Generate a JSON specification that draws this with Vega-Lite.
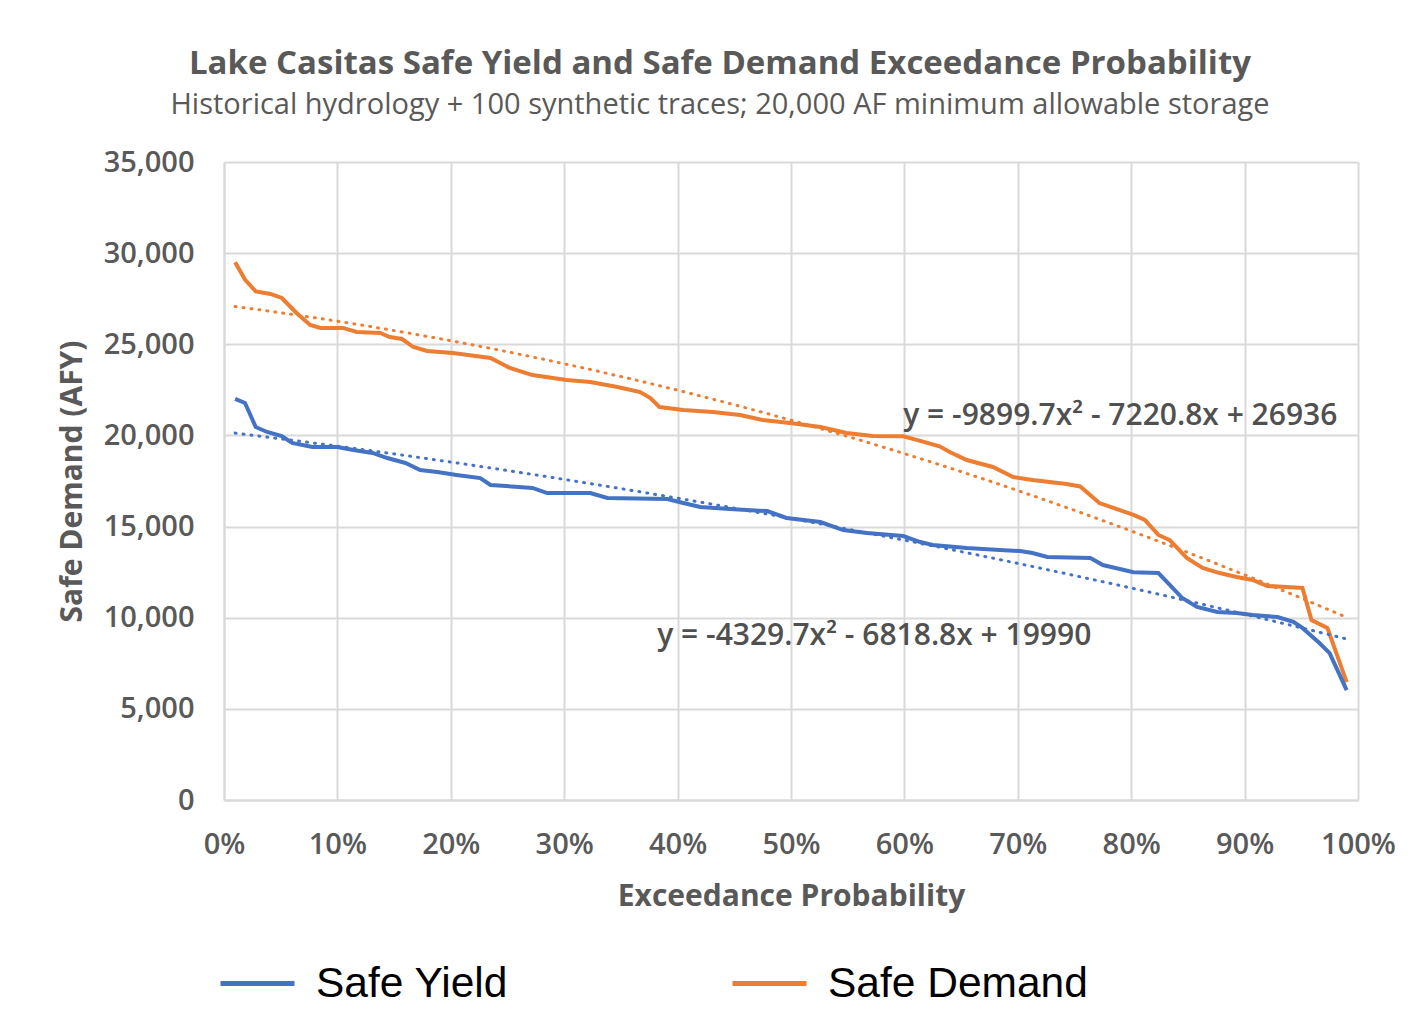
{
  "$schema": "https://vega.github.io/schema/vega-lite/v6.json",
  "autosize": {"type": "none"},
  "padding": {"left": 224, "top": 162, "right": 58, "bottom": 215},
  "width": 1134,
  "height": 638,
  "background": "white",
  "title": {
    "text": "Lake Casitas Safe Yield and Safe Demand Exceedance Probability",
    "subtitle": "Historical hydrology + 100 synthetic traces; 20,000 AF minimum allowable storage",
    "anchor": "middle",
    "frame": "group",
    "dx": -71,
    "offset": 28,
    "font": "Open Sans",
    "fontSize": 33,
    "fontWeight": "bold",
    "color": "#595959",
    "subtitleFont": "Open Sans",
    "subtitleFontSize": 29,
    "subtitleColor": "#595959",
    "subtitlePadding": 10
  },
  "datasets": {
    "curves": [
      {"p": 0.0098, "value": 29500, "series": "Safe Demand"},
      {"p": 0.0185, "value": 28550, "series": "Safe Demand"},
      {"p": 0.028, "value": 27900, "series": "Safe Demand"},
      {"p": 0.041, "value": 27760, "series": "Safe Demand"},
      {"p": 0.051, "value": 27540, "series": "Safe Demand"},
      {"p": 0.064, "value": 26720, "series": "Safe Demand"},
      {"p": 0.076, "value": 26060, "series": "Safe Demand"},
      {"p": 0.085, "value": 25900, "series": "Safe Demand"},
      {"p": 0.105, "value": 25900, "series": "Safe Demand"},
      {"p": 0.117, "value": 25680, "series": "Safe Demand"},
      {"p": 0.138, "value": 25620, "series": "Safe Demand"},
      {"p": 0.146, "value": 25400, "series": "Safe Demand"},
      {"p": 0.157, "value": 25290, "series": "Safe Demand"},
      {"p": 0.167, "value": 24850, "series": "Safe Demand"},
      {"p": 0.179, "value": 24630, "series": "Safe Demand"},
      {"p": 0.202, "value": 24520, "series": "Safe Demand"},
      {"p": 0.235, "value": 24250, "series": "Safe Demand"},
      {"p": 0.252, "value": 23700, "series": "Safe Demand"},
      {"p": 0.272, "value": 23310, "series": "Safe Demand"},
      {"p": 0.302, "value": 23040, "series": "Safe Demand"},
      {"p": 0.323, "value": 22930, "series": "Safe Demand"},
      {"p": 0.347, "value": 22660, "series": "Safe Demand"},
      {"p": 0.367, "value": 22380, "series": "Safe Demand"},
      {"p": 0.376, "value": 22050, "series": "Safe Demand"},
      {"p": 0.384, "value": 21560, "series": "Safe Demand"},
      {"p": 0.405, "value": 21400, "series": "Safe Demand"},
      {"p": 0.431, "value": 21290, "series": "Safe Demand"},
      {"p": 0.455, "value": 21120, "series": "Safe Demand"},
      {"p": 0.475, "value": 20850, "series": "Safe Demand"},
      {"p": 0.499, "value": 20680, "series": "Safe Demand"},
      {"p": 0.526, "value": 20460, "series": "Safe Demand"},
      {"p": 0.549, "value": 20130, "series": "Safe Demand"},
      {"p": 0.572, "value": 19970, "series": "Safe Demand"},
      {"p": 0.599, "value": 19950, "series": "Safe Demand"},
      {"p": 0.614, "value": 19700, "series": "Safe Demand"},
      {"p": 0.631, "value": 19400, "series": "Safe Demand"},
      {"p": 0.640, "value": 19090, "series": "Safe Demand"},
      {"p": 0.655, "value": 18650, "series": "Safe Demand"},
      {"p": 0.678, "value": 18270, "series": "Safe Demand"},
      {"p": 0.696, "value": 17720, "series": "Safe Demand"},
      {"p": 0.713, "value": 17550, "series": "Safe Demand"},
      {"p": 0.743, "value": 17340, "series": "Safe Demand"},
      {"p": 0.755, "value": 17200, "series": "Safe Demand"},
      {"p": 0.772, "value": 16290, "series": "Safe Demand"},
      {"p": 0.790, "value": 15900, "series": "Safe Demand"},
      {"p": 0.802, "value": 15640, "series": "Safe Demand"},
      {"p": 0.812, "value": 15360, "series": "Safe Demand"},
      {"p": 0.824, "value": 14540, "series": "Safe Demand"},
      {"p": 0.834, "value": 14260, "series": "Safe Demand"},
      {"p": 0.849, "value": 13280, "series": "Safe Demand"},
      {"p": 0.863, "value": 12730, "series": "Safe Demand"},
      {"p": 0.878, "value": 12450, "series": "Safe Demand"},
      {"p": 0.893, "value": 12230, "series": "Safe Demand"},
      {"p": 0.907, "value": 12070, "series": "Safe Demand"},
      {"p": 0.920, "value": 11740, "series": "Safe Demand"},
      {"p": 0.937, "value": 11690, "series": "Safe Demand"},
      {"p": 0.951, "value": 11630, "series": "Safe Demand"},
      {"p": 0.959, "value": 9875, "series": "Safe Demand"},
      {"p": 0.973, "value": 9440, "series": "Safe Demand"},
      {"p": 0.990, "value": 6470, "series": "Safe Demand"},
      {"p": 0.0098, "value": 22000, "series": "Safe Yield"},
      {"p": 0.0185, "value": 21780, "series": "Safe Yield"},
      {"p": 0.028, "value": 20460, "series": "Safe Yield"},
      {"p": 0.038, "value": 20190, "series": "Safe Yield"},
      {"p": 0.051, "value": 19970, "series": "Safe Yield"},
      {"p": 0.060, "value": 19590, "series": "Safe Yield"},
      {"p": 0.078, "value": 19370, "series": "Safe Yield"},
      {"p": 0.100, "value": 19370, "series": "Safe Yield"},
      {"p": 0.114, "value": 19200, "series": "Safe Yield"},
      {"p": 0.131, "value": 19040, "series": "Safe Yield"},
      {"p": 0.144, "value": 18760, "series": "Safe Yield"},
      {"p": 0.160, "value": 18490, "series": "Safe Yield"},
      {"p": 0.173, "value": 18100, "series": "Safe Yield"},
      {"p": 0.188, "value": 17990, "series": "Safe Yield"},
      {"p": 0.205, "value": 17830, "series": "Safe Yield"},
      {"p": 0.226, "value": 17660, "series": "Safe Yield"},
      {"p": 0.235, "value": 17280, "series": "Safe Yield"},
      {"p": 0.272, "value": 17120, "series": "Safe Yield"},
      {"p": 0.285, "value": 16840, "series": "Safe Yield"},
      {"p": 0.323, "value": 16840, "series": "Safe Yield"},
      {"p": 0.338, "value": 16570, "series": "Safe Yield"},
      {"p": 0.391, "value": 16510, "series": "Safe Yield"},
      {"p": 0.405, "value": 16290, "series": "Safe Yield"},
      {"p": 0.420, "value": 16070, "series": "Safe Yield"},
      {"p": 0.446, "value": 15960, "series": "Safe Yield"},
      {"p": 0.479, "value": 15850, "series": "Safe Yield"},
      {"p": 0.496, "value": 15470, "series": "Safe Yield"},
      {"p": 0.526, "value": 15250, "series": "Safe Yield"},
      {"p": 0.546, "value": 14810, "series": "Safe Yield"},
      {"p": 0.567, "value": 14650, "series": "Safe Yield"},
      {"p": 0.599, "value": 14480, "series": "Safe Yield"},
      {"p": 0.614, "value": 14150, "series": "Safe Yield"},
      {"p": 0.625, "value": 13990, "series": "Safe Yield"},
      {"p": 0.655, "value": 13820, "series": "Safe Yield"},
      {"p": 0.684, "value": 13720, "series": "Safe Yield"},
      {"p": 0.702, "value": 13660, "series": "Safe Yield"},
      {"p": 0.713, "value": 13550, "series": "Safe Yield"},
      {"p": 0.726, "value": 13330, "series": "Safe Yield"},
      {"p": 0.764, "value": 13270, "series": "Safe Yield"},
      {"p": 0.775, "value": 12890, "series": "Safe Yield"},
      {"p": 0.802, "value": 12500, "series": "Safe Yield"},
      {"p": 0.824, "value": 12450, "series": "Safe Yield"},
      {"p": 0.834, "value": 11800, "series": "Safe Yield"},
      {"p": 0.845, "value": 11080, "series": "Safe Yield"},
      {"p": 0.858, "value": 10590, "series": "Safe Yield"},
      {"p": 0.876, "value": 10310, "series": "Safe Yield"},
      {"p": 0.893, "value": 10260, "series": "Safe Yield"},
      {"p": 0.907, "value": 10150, "series": "Safe Yield"},
      {"p": 0.929, "value": 10040, "series": "Safe Yield"},
      {"p": 0.943, "value": 9770, "series": "Safe Yield"},
      {"p": 0.951, "value": 9440, "series": "Safe Yield"},
      {"p": 0.966, "value": 8610, "series": "Safe Yield"},
      {"p": 0.975, "value": 8060, "series": "Safe Yield"},
      {"p": 0.990, "value": 6030, "series": "Safe Yield"}
    ],
    "equations": [
      {"p": 0.599, "value": 21050, "label": "y = -9899.7x² - 7220.8x + 26936"},
      {"p": 0.382, "value": 9000, "label": "y = -4329.7x² - 6818.8x + 19990"}
    ]
  },
  "layer": [
    {
      "data": {"name": "curves"},
      "mark": {"type": "line", "strokeWidth": 4, "interpolate": "linear"},
      "encoding": {
        "x": {
          "field": "p", "type": "quantitative",
          "scale": {"domain": [0, 1], "nice": false},
          "axis": {
            "values": [0, 0.1, 0.2, 0.3, 0.4, 0.5, 0.6, 0.7, 0.8, 0.9, 1],
            "format": ".0%",
            "labelFlush": false,
            "title": "Exceedance  Probability",
            "labelPadding": 30,
            "titlePadding": 22
          }
        },
        "y": {
          "field": "value", "type": "quantitative",
          "scale": {"domain": [0, 35000], "nice": false},
          "axis": {
            "values": [0, 5000, 10000, 15000, 20000, 25000, 30000, 35000],
            "format": ",.0f",
            "labelFlush": false,
            "title": "Safe Demand (AFY)",
            "labelPadding": 30,
            "titlePadding": 16
          }
        },
        "color": {
          "field": "series", "type": "nominal",
          "scale": {"domain": ["Safe Yield", "Safe Demand"], "range": ["#4472C4", "#ED7D31"]},
          "legend": {
            "title": null,
            "orient": "none",
            "direction": "horizontal",
            "legendX": -6,
            "legendY": 782,
            "symbolType": "stroke",
            "symbolSize": 5476,
            "symbolStrokeWidth": 5,
            "labelFont": "Liberation Sans",
            "labelFontSize": 42.5,
            "labelColor": "#000000",
            "labelOffset": 19,
            "columnPadding": 213,
            "labelLimit": 400
          }
        },
        "detail": {"field": "series"}
      }
    },
    {
      "data": {"name": "curves"},
      "transform": [
        {"regression": "value", "on": "p", "groupby": ["series"], "method": "poly", "order": 2}
      ],
      "mark": {"type": "line", "strokeWidth": 3, "strokeDash": [1, 7], "strokeCap": "round"},
      "encoding": {
        "x": {"field": "p", "type": "quantitative"},
        "y": {"field": "value", "type": "quantitative"},
        "color": {"field": "series", "type": "nominal", "legend": null}
      }
    },
    {
      "data": {"name": "equations"},
      "mark": {"type": "text", "align": "left", "baseline": "middle", "font": "Open Sans", "fontSize": 30, "fontWeight": 600, "color": "#505050"},
      "encoding": {
        "x": {"field": "p", "type": "quantitative"},
        "y": {"field": "value", "type": "quantitative"},
        "text": {"field": "label"}
      }
    }
  ],
  "config": {
    "view": {"stroke": null},
    "axis": {
      "grid": true,
      "gridColor": "#D9D9D9",
      "gridWidth": 2,
      "domainColor": "#D9D9D9",
      "domainWidth": 2,
      "ticks": false,
      "labelFont": "Open Sans",
      "labelFontSize": 29,
      "labelFontWeight": 600,
      "labelColor": "#595959",
      "titleFont": "Open Sans",
      "titleFontSize": 30,
      "titleFontWeight": "bold",
      "titleColor": "#595959"
    }
  }
}
